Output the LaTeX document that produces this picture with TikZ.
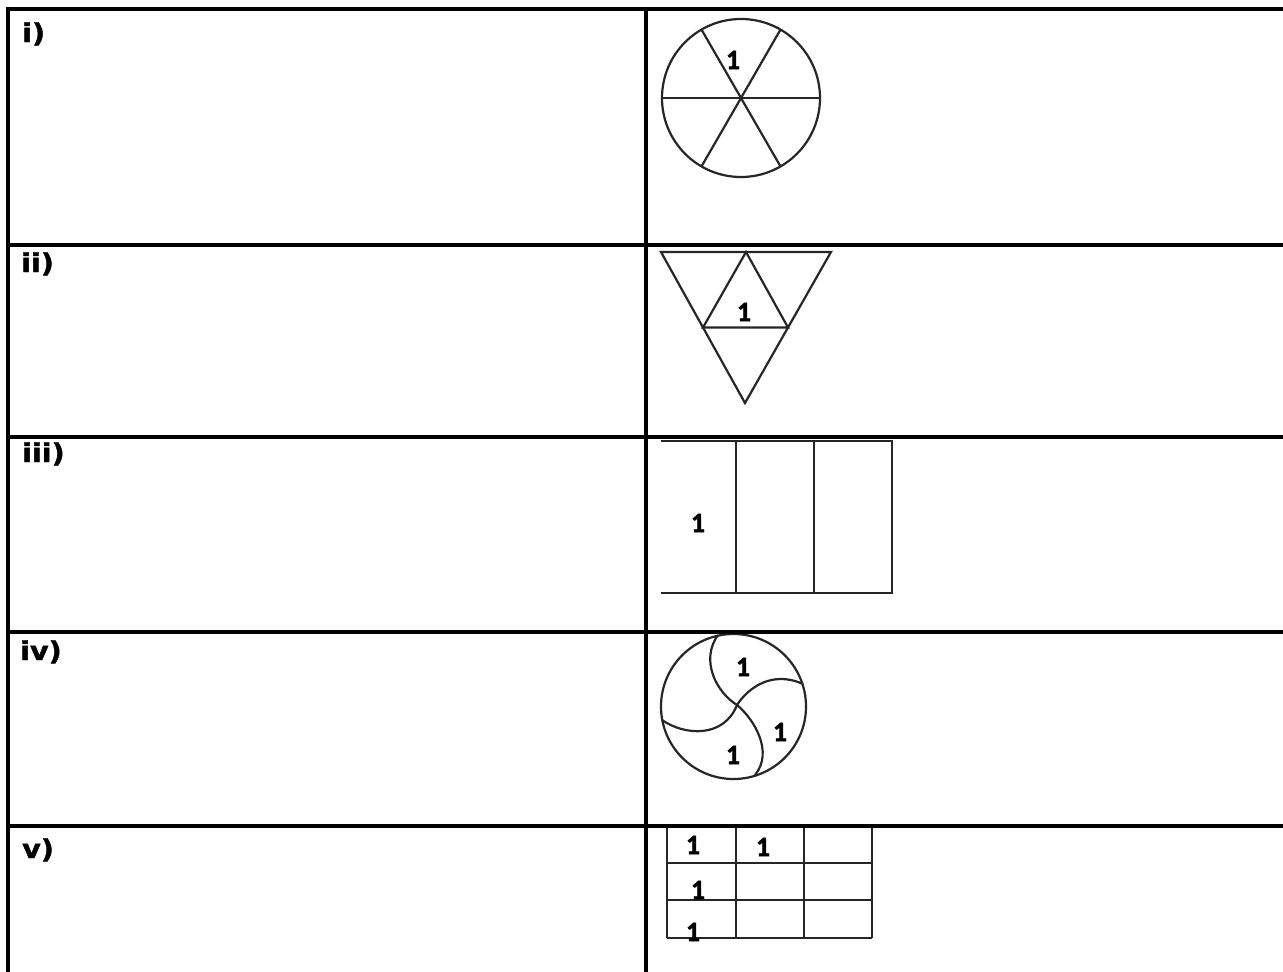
\documentclass[tikz,border=0pt]{standalone}
\usepackage{fontspec}
\setmainfont{DejaVu Sans}
\newfontfamily\labfont[FakeStretch=1.1,FakeBold=1.5]{DejaVu Sans Bold}
\newfontfamily\numfont[FakeBold=1.2]{Carlito Bold}
\usetikzlibrary{calc}
\begin{document}
\begin{tikzpicture}[x=1pt,y=-1pt,
  rule/.style={line width=3.2pt,black},
  figline/.style={line width=2.2pt,black!85},
  rowlabel/.style={anchor=base west,inner sep=0pt,font=\labfont\fontsize{26}{26}\selectfont},
  one/.style={inner sep=0pt,font=\numfont\fontsize{28}{28}\selectfont}]
\useasboundingbox (0,0) rectangle (1283,972);
% row labels
\node[rowlabel] (l1) at (22,42) {i)};
\node[rowlabel] (l2) at (21,272) {ii)};
\node[rowlabel] (l3) at (22,462) {iii)};
\node[rowlabel] (l4) at (20,660) {iv)};
\node[rowlabel] (l5) at (22,858) {v)};
% i) circle in six parts
\coordinate (c1) at (741,98);
\draw[figline] (c1) circle[radius=79];
\draw[figline] ($(c1)+(-79,0)$) -- ($(c1)+(79,0)$);
\draw[figline] ($(c1)+(120:79)$) -- ($(c1)+(-60:79)$);
\draw[figline] ($(c1)+(60:79)$) -- ($(c1)+(240:79)$);
\node[one] (n1) at (733,60) {1};
% ii) triangle
\coordinate (tl) at (661,252);
\coordinate (tr) at (831,252);
\coordinate (tb) at (745,403);
\coordinate (mt) at (746,252);
\coordinate (ml) at (703,327.5);
\coordinate (mr) at (788,327.5);
\draw[figline,line join=miter] (tl) -- (tr) -- (tb) -- cycle;
\draw[figline] (ml) -- (mt) -- (mr) -- cycle;
\node[one] (n2) at (744,312) {1};
% iii) rectangle in three parts
\draw[figline] (661,441) -- (892,441) -- (892,593) -- (661,593);
\draw[figline] (736,441) -- (736,593);
\draw[figline] (814,441) -- (814,593);
\node[one] (n3) at (698,523) {1};
% iv) circle with pinwheel
\coordinate (c4) at (733.5,706.5);
\coordinate (cc) at (737,705);
\draw[figline] (c4) circle[radius=72.5];
\draw[figline] (718,635) .. controls (700,660) and (716,692) .. (cc);
\draw[figline] (cc) .. controls (754,719) and (774,752) .. (755,775);
\draw[figline] (662,720) .. controls (685,736) and (724,738) .. (cc);
\draw[figline] (cc) .. controls (748,688) and (772,670) .. (803,684);
\node[one] (n4a) at (743,667) {1};
\node[one] (n4b) at (780,732) {1};
\node[one] (n4c) at (733,755) {1};
% v) grid
\foreach \xx in {667,736,804,872} \draw[figline] (\xx,826) -- (\xx,938);
\foreach \yy in {863,900,938} \draw[figline] (667,\yy) -- (872,\yy);
\node[one] (n5a) at (693,845) {1};
\node[one] (n5b) at (763,847) {1};
\node[one] (n5c) at (698,890) {1};
\node[one] (n5d) at (693,932) {1};
% table rules
\draw[rule] (8,9) -- (8,972);
\draw[rule] (646,9) -- (646,972);
\foreach \yy in {9,245,437,632,826} \draw[rule] (6.4,\yy) -- (1283,\yy);
\end{tikzpicture}
\end{document}
